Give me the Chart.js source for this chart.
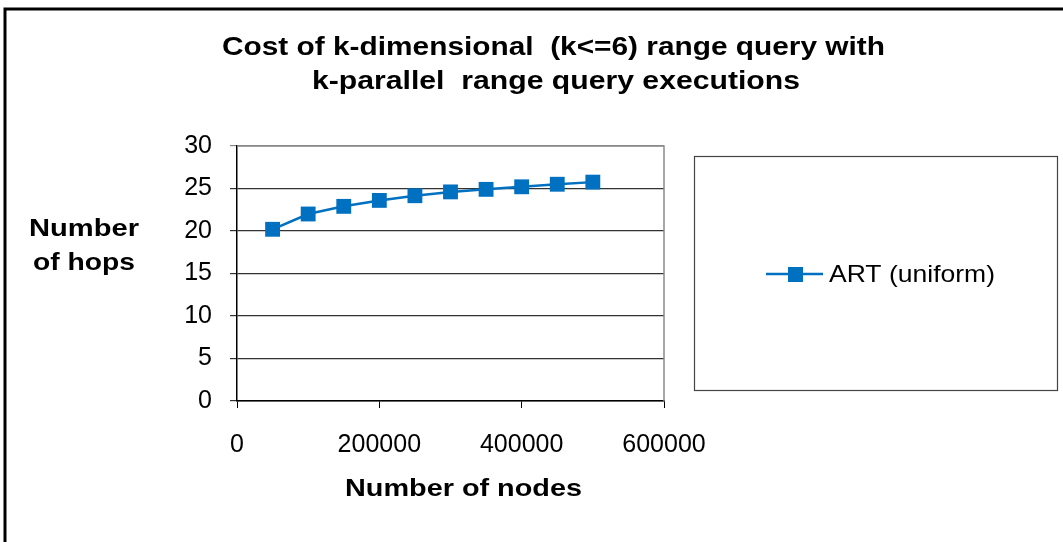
<!DOCTYPE html>
<html>
<head>
<meta charset="utf-8">
<script src="https://cdn.jsdelivr.net/npm/chart.js@4"></script>
<style>
	html, body { margin: 0; padding: 0; background: #fff; }
	#wrap { width: 1063px; height: 542px; position: relative; }
</style>
</head>
<body>
<div id="wrap"><canvas id="hopsChart" width="1063" height="542"></canvas></div>
<script>
// Data
const nodes = [50000, 100000, 150000, 200000, 250000, 300000, 350000, 400000, 450000, 500000];
const hops = [20.2, 22.0, 22.9, 23.6, 24.15, 24.6, 24.9, 25.2, 25.5, 25.75];
const xTicks = [0, 200000, 400000, 600000];
const yTicks = [0, 5, 10, 15, 20, 25, 30];
const titleLines = ['Cost of k-dimensional  (k<=6) range query with', 'k-parallel  range query executions'];
const yTitleLines = ['Number', 'of hops'];
const xTitle = 'Number of nodes';
const seriesLabel = 'ART (uniform)';

const FONT = '"Liberation Sans", Arial, sans-serif';
const BLUE = '#0070c0';

// text stretched to a given width (the original picture is wider than tall)
function wideText(ctx, text, cx, cy, width) {
	const w = ctx.measureText(text).width;
	ctx.save();
	ctx.translate(cx, cy);
	ctx.scale(width / w, 1);
	ctx.fillText(text, 0, 0);
	ctx.restore();
}

// Title, axis titles, legend box and frame are drawn by hand (Excel style)
const excelDecor = {
	id: 'excelDecor',
	afterDraw(chart) {
		const ctx = chart.ctx;
		const area = chart.chartArea;
		ctx.save();

		// outer frame
		ctx.strokeStyle = '#000';
		ctx.lineWidth = 3;
		ctx.strokeRect(5, 9, 1080, 560);

		// plot border top/right
		ctx.strokeStyle = '#8a8a8a';
		ctx.lineWidth = 1.5;
		ctx.beginPath();
		ctx.moveTo(area.left, area.top);
		ctx.lineTo(area.right, area.top);
		ctx.lineTo(area.right, area.bottom);
		ctx.stroke();

		// title
		ctx.fillStyle = '#000';
		ctx.textAlign = 'center';
		ctx.textBaseline = 'middle';
		ctx.font = 'bold 26px ' + FONT;
		wideText(ctx, titleLines[0], 553.5, 48, 663);
		wideText(ctx, titleLines[1], 556, 82, 488);

		// y title (horizontal)
		ctx.font = 'bold 24px ' + FONT;
		wideText(ctx, yTitleLines[0], 84, 229, 110);
		wideText(ctx, yTitleLines[1], 84, 263, 102);

		// x title
		wideText(ctx, xTitle, 463.5, 489, 237);

		// legend box
		ctx.strokeStyle = '#444';
		ctx.lineWidth = 1.2;
		ctx.strokeRect(694.5, 156.5, 363, 234);
		const ds = chart.data.datasets[0];
		ctx.strokeStyle = ds.borderColor;
		ctx.lineWidth = 2.5;
		ctx.beginPath();
		ctx.moveTo(766, 274);
		ctx.lineTo(823, 274);
		ctx.stroke();
		ctx.fillStyle = ds.pointBackgroundColor;
		ctx.fillRect(788, 267, 15, 15);
		ctx.fillStyle = '#000';
		ctx.font = '24px ' + FONT;
		wideText(ctx, ds.label, 912, 275, 166);

		ctx.restore();
	}
};

new Chart(document.getElementById('hopsChart').getContext('2d'), {
	type: 'line',
	data: {
		datasets: [{
			label: seriesLabel,
			data: nodes.map((n, i) => ({ x: n, y: hops[i] })),
			borderColor: BLUE,
			backgroundColor: BLUE,
			borderWidth: 2.5,
			pointStyle: 'rect',
			pointRadius: 10.5,
			pointBackgroundColor: BLUE,
			pointBorderColor: BLUE,
			pointBorderWidth: 0,
			tension: 0,
			clip: false
		}]
	},
	options: {
		responsive: false,
		animation: false,
		devicePixelRatio: 1,
		layout: {
			padding: { left: 0, top: 146, right: 399, bottom: 0 }
		},
		plugins: {
			legend: { display: false },
			title: { display: false },
			tooltip: { enabled: false }
		},
		scales: {
			x: {
				type: 'linear',
				min: 0,
				max: 600000,
				afterBuildTicks: s => { s.ticks = xTicks.map(v => ({ value: v })); },
				afterFit: s => { s.height = 141; },
				border: { display: true, color: '#000', width: 1.5 },
				grid: {
					drawOnChartArea: false,
					drawTicks: true,
					tickLength: 7,
					color: '#000',
					lineWidth: 1
				},
				ticks: {
					color: '#000',
					padding: 22,
					maxRotation: 0,
					font: { family: FONT, size: 25 },
					callback: v => String(v)
				}
			},
			y: {
				min: 0,
				max: 30,
				afterBuildTicks: s => { s.ticks = yTicks.map(v => ({ value: v })); },
				afterFit: s => { s.width = 237; },
				border: { display: true, color: '#000', width: 1.5 },
				grid: {
					drawTicks: true,
					tickLength: 7,
					color: c => (c.tick && c.tick.value === 30 ? '#8a8a8a' : '#333'),
					lineWidth: 1.2
				},
				ticks: {
					color: '#000',
					padding: 18,
					font: { family: FONT, size: 25 }
				}
			}
		}
	},
	plugins: [excelDecor]
});
</script>
</body>
</html>
